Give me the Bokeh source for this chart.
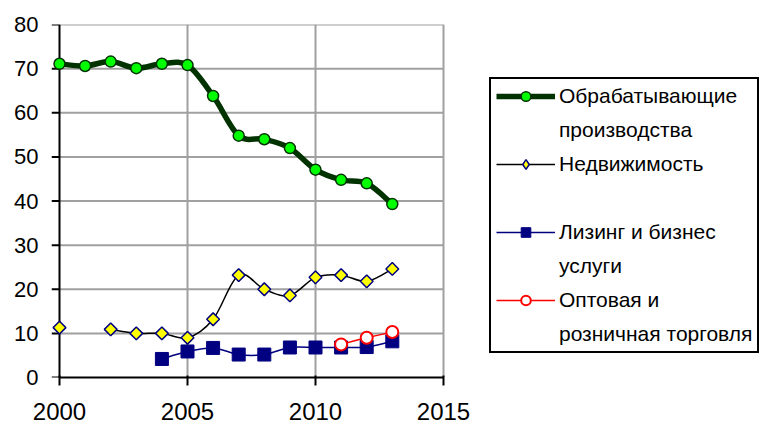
import numpy as np
from bokeh.plotting import figure
from bokeh.models import Legend, LegendItem, FixedTicker, Range1d
from bokeh.embed import file_html
from bokeh.resources import INLINE

# ---- data ----
years = [2000, 2001, 2002, 2003, 2004, 2005, 2006, 2007, 2008, 2009, 2010, 2011, 2012, 2013]
manufacturing = [71.1, 70.6, 71.6, 70.1, 71.1, 70.8, 63.8, 54.8, 54.0, 52.0, 47.1, 44.8, 44.0, 39.3]
real_estate = [11.3, np.nan, 10.9, 10.0, 10.0, 9.0, 13.2, 23.2, 20.0, 18.6, 22.7, 23.2, 21.8, 24.6]
leasing_years = [2004, 2005, 2006, 2007, 2008, 2009, 2010, 2011, 2012, 2013]
leasing = [4.2, 5.9, 6.7, 5.2, 5.2, 6.8, 6.8, 6.8, 6.9, 8.2]
trade_years = [2011, 2012, 2013]
trade = [7.5, 9.0, 10.3]

x_ticks = [2000, 2005, 2010, 2015]
y_ticks = [0, 10, 20, 30, 40, 50, 60, 70, 80]

legend_labels = [
    ("Обрабатывающие", "производства"),
    ("Недвижимость", " "),
    ("Лизинг и бизнес", "услуги"),
    ("Оптовая и", "розничная торговля"),
]

X_MIN, X_MAX = 2000, 2015
Y_MIN, Y_MAX = 0, 80

# layout (pixels)
W, H = 762, 423
LEFT, TOP, BOTTOM = 51, 24, 46
AXIS_X = 59                      # pixel where the value axis sits
PLOT_W = 384                     # width of the gridded plotting area
TICK = 8                         # tick length, pixels
YEAR_PX = PLOT_W / (X_MAX - X_MIN)
x_start = X_MIN - (AXIS_X - LEFT) / YEAR_PX
x_end = x_start + (W - LEFT) / YEAR_PX


def smooth_segments(xs, ys):
    """Bezier segments (Excel-like smoothing) through consecutive valid points."""
    xs = np.asarray(xs, dtype=float)
    ys = np.asarray(ys, dtype=float)
    runs, cur = [], []
    for xv, yv in zip(xs, ys):
        if np.isnan(yv):
            if cur:
                runs.append(cur)
            cur = []
        else:
            cur.append((xv, yv))
    if cur:
        runs.append(cur)
    seg = dict(x0=[], y0=[], x1=[], y1=[], cx0=[], cy0=[], cx1=[], cy1=[])
    for run in runs:
        n = len(run)
        for i in range(n - 1):
            p0 = np.array(run[i - 1] if i > 0 else run[i])
            p1 = np.array(run[i])
            p2 = np.array(run[i + 1])
            p3 = np.array(run[i + 2] if i + 2 < n else run[i + 1])
            c1 = p1 + (p2 - p0) / 6.0
            c2 = p2 - (p3 - p1) / 6.0
            seg["x0"].append(p1[0]); seg["y0"].append(p1[1])
            seg["x1"].append(p2[0]); seg["y1"].append(p2[1])
            seg["cx0"].append(c1[0]); seg["cy0"].append(c1[1])
            seg["cx1"].append(c2[0]); seg["cy1"].append(c2[1])
    return seg


p = figure(width=W, height=H,
           x_range=Range1d(x_start, x_end), y_range=Range1d(Y_MIN, Y_MAX),
           output_backend="svg", toolbar_location=None,
           min_border_left=LEFT, min_border_right=0,
           min_border_top=TOP, min_border_bottom=BOTTOM)

p.background_fill_color = "white"
p.border_fill_color = "white"
p.outline_line_color = None
p.grid.visible = False

# grid lines limited to the plotting area (drawn from the tick lists)
gx = p.segment(x0=x_ticks[1:], y0=[Y_MIN] * (len(x_ticks) - 1),
               x1=x_ticks[1:], y1=[Y_MAX] * (len(x_ticks) - 1),
               line_color="#a0a0a0", line_width=2)
gy = p.segment(x0=[X_MIN] * (len(y_ticks) - 1), y0=y_ticks[1:],
               x1=[X_MAX] * (len(y_ticks) - 1), y1=y_ticks[1:],
               line_color="#a0a0a0", line_width=2)
gx.level = "underlay"
gy.level = "underlay"

# value axis line and ticks at x = 2000 (labels come from the regular y axis)
tick_len = TICK / YEAR_PX
p.segment(x0=[X_MIN], y0=[Y_MIN], x1=[X_MIN], y1=[Y_MAX], line_color="black", line_width=2)
p.segment(x0=[X_MIN - tick_len] * len(y_ticks), y0=y_ticks,
          x1=[X_MIN] * len(y_ticks), y1=y_ticks, line_color="black", line_width=2)

p.xaxis.ticker = FixedTicker(ticks=x_ticks)
p.yaxis.ticker = FixedTicker(ticks=y_ticks)
p.xaxis.bounds = (X_MIN, X_MAX)

p.axis.axis_line_color = "black"
p.axis.axis_line_width = 2
p.axis.major_tick_line_color = "black"
p.axis.major_tick_line_width = 2
p.axis.minor_tick_line_color = None
p.axis.major_label_text_font = "Liberation Sans"
p.axis.major_label_text_color = "black"
p.xaxis.major_tick_out = TICK
p.xaxis.major_tick_in = 2
p.xaxis.major_label_text_font_size = "24px"
p.xaxis.major_label_standoff = 17
p.yaxis.axis_line_color = None
p.yaxis.major_tick_line_color = None
p.yaxis.major_tick_out = 0
p.yaxis.major_tick_in = 0
p.yaxis.major_label_text_font_size = "22px"
p.yaxis.major_label_standoff = 13

# manufacturing
s = smooth_segments(years, manufacturing)
man_line = p.bezier(source=s, x0="x0", y0="y0", x1="x1", y1="y1",
                    cx0="cx0", cy0="cy0", cx1="cx1", cy1="cy1",
                    line_color="#003300", line_width=5.5)
man_pts = p.scatter(years, manufacturing, marker="circle", size=11,
                    fill_color="#00ff00", line_color="#003300", line_width=1.5)

# real estate
s = smooth_segments(years, real_estate)
re_line = p.bezier(source=s, x0="x0", y0="y0", x1="x1", y1="y1",
                   cx0="cx0", cy0="cy0", cx1="cx1", cy1="cy1",
                   line_color="black", line_width=1.5)
re_pts = p.scatter(years, real_estate, marker="square", angle=np.pi / 4, size=9,
                   fill_color="#ffff00", line_color="#000080", line_width=1.5)
# legend key only (no visible point in the plot)
re_key = p.scatter(x=[np.nan], y=[np.nan], marker="diamond", size=12,
                   fill_color="#ffff00", line_color="#000080", line_width=1.5)

# leasing
s = smooth_segments(leasing_years, leasing)
le_line = p.bezier(source=s, x0="x0", y0="y0", x1="x1", y1="y1",
                   cx0="cx0", cy0="cy0", cx1="cx1", cy1="cy1",
                   line_color="#000080", line_width=1.5)
le_pts = p.scatter(leasing_years, leasing, marker="square", size=13,
                   fill_color="#000080", line_color="#000080", line_width=1)

# trade
s = smooth_segments(trade_years, trade)
tr_line = p.bezier(source=s, x0="x0", y0="y0", x1="x1", y1="y1",
                   cx0="cx0", cy0="cy0", cx1="cx1", cy1="cy1",
                   line_color="#ff0000", line_width=1.5)
tr_pts = p.scatter(trade_years, trade, marker="circle", size=12,
                   fill_color="white", line_color="#ff0000", line_width=2)

# invisible renderer for text-only legend rows (second lines of labels)
blank = p.scatter(x=[], y=[], fill_alpha=0, line_alpha=0)

renderer_sets = [[man_line, man_pts], [re_line, re_key], [le_line, le_pts], [tr_line, tr_pts]]
items = []
for lab, r in zip(legend_labels, renderer_sets):
    items.append(LegendItem(label=lab[0], renderers=r))
    items.append(LegendItem(label=lab[1], renderers=[blank]))

legend = Legend(items=items, location=(438, 24), orientation="vertical",
                padding=5, margin=0, spacing=10,
                glyph_width=59, glyph_height=24, label_height=24, label_standoff=4,
                label_text_font="Liberation Sans", label_text_font_size="21px",
                label_text_color="black",
                border_line_color="black", border_line_width=2, border_line_alpha=1,
                background_fill_color="white", background_fill_alpha=1)
p.add_layout(legend)

open("out.html", "w").write(file_html(p, INLINE))
